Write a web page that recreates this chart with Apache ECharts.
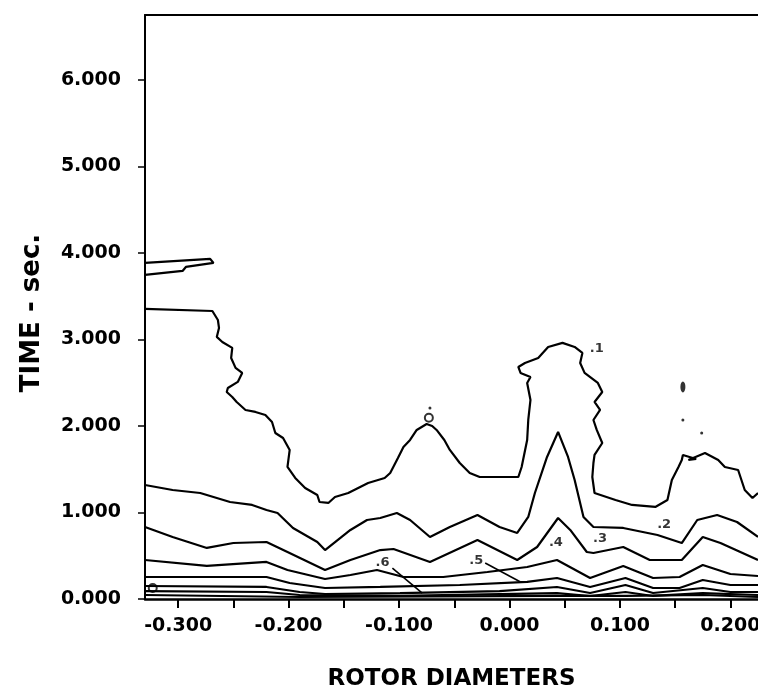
<!DOCTYPE html>
<html>
<head>
<meta charset="utf-8">
<script src="https://cdn.jsdelivr.net/npm/echarts@6/dist/echarts.min.js"></script>
<style>html,body{margin:0;padding:0;background:#fff;overflow:hidden}#c{position:absolute;left:0;top:0;width:758px;height:695px}</style>
</head>
<body>
<div id="c"></div>
<script>
// ---- data (x: rotor diameters, y: time in sec) ----
const xTickValues = [-0.30, -0.25, -0.20, -0.15, -0.10, -0.05, 0.00, 0.05, 0.10, 0.15, 0.20];
const xLabelValues = [-0.30, -0.20, -0.10, 0.00, 0.10, 0.20];
const yLabelValues = [0, 1, 2, 3, 4, 5, 6];

const contour1 = [[-0.330,3.353],[-0.269,3.329],[-0.264,3.225],[-0.263,3.133],[-0.265,3.029],[-0.260,2.971],[-0.251,2.902],[-0.252,2.786],[-0.248,2.671],[-0.242,2.613],[-0.246,2.509],[-0.255,2.439],[-0.256,2.393],[-0.251,2.335],[-0.247,2.277],[-0.239,2.185],[-0.230,2.162],[-0.221,2.127],[-0.215,2.046],[-0.212,1.919],[-0.205,1.861],[-0.199,1.723],[-0.201,1.526],[-0.194,1.399],[-0.185,1.283],[-0.174,1.202],[-0.172,1.121],[-0.164,1.110],[-0.158,1.179],[-0.146,1.225],[-0.128,1.341],[-0.113,1.399],[-0.108,1.457],[-0.101,1.630],[-0.096,1.757],[-0.090,1.838],[-0.084,1.954],[-0.078,2.000],[-0.075,2.023],[-0.070,2.000],[-0.066,1.954],[-0.059,1.838],[-0.054,1.723],[-0.045,1.572],[-0.036,1.457],[-0.027,1.410],[0.008,1.410],[0.011,1.526],[0.016,1.838],[0.017,2.069],[0.019,2.301],[0.016,2.497],[0.019,2.566],[0.010,2.613],[0.008,2.682],[0.014,2.728],[0.026,2.786],[0.035,2.913],[0.048,2.960],[0.059,2.913],[0.066,2.844],[0.064,2.728],[0.068,2.613],[0.080,2.497],[0.084,2.393],[0.077,2.277],[0.082,2.185],[0.076,2.069],[0.079,1.954],[0.084,1.803],[0.077,1.665],[0.076,1.572],[0.075,1.410],[0.077,1.225],[0.096,1.145],[0.111,1.087],[0.132,1.064],[0.143,1.145],[0.147,1.376],[0.153,1.526],[0.156,1.607],[0.157,1.665],[0.169,1.618],[0.162,1.607],[0.177,1.688],[0.189,1.607],[0.195,1.526],[0.207,1.491],[0.213,1.260],[0.220,1.168],[0.225,1.225]];
const contour1b = [[-0.330,3.884],[-0.271,3.931],[-0.268,3.884],[-0.293,3.838],[-0.296,3.792],[-0.330,3.746]];
const contour2 = [[-0.330,1.318],[-0.305,1.260],[-0.280,1.225],[-0.253,1.121],[-0.233,1.087],[-0.220,1.029],[-0.210,0.994],[-0.196,0.821],[-0.174,0.659],[-0.167,0.566],[-0.144,0.798],[-0.129,0.913],[-0.117,0.936],[-0.102,0.994],[-0.090,0.913],[-0.072,0.717],[-0.054,0.832],[-0.029,0.971],[-0.009,0.832],[0.007,0.763],[0.017,0.948],[0.023,1.225],[0.034,1.642],[0.044,1.931],[0.053,1.642],[0.059,1.376],[0.067,0.948],[0.076,0.832],[0.103,0.821],[0.134,0.740],[0.156,0.647],[0.170,0.913],[0.188,0.971],[0.206,0.890],[0.225,0.717]];
const contour3 = [[-0.330,0.832],[-0.305,0.717],[-0.274,0.590],[-0.250,0.647],[-0.220,0.659],[-0.201,0.543],[-0.167,0.335],[-0.144,0.451],[-0.117,0.566],[-0.105,0.578],[-0.072,0.428],[-0.029,0.682],[0.007,0.451],[0.025,0.601],[0.044,0.936],[0.055,0.798],[0.070,0.543],[0.076,0.532],[0.103,0.601],[0.127,0.451],[0.156,0.451],[0.175,0.717],[0.191,0.647],[0.225,0.451]];
const contour4 = [[-0.330,0.451],[-0.274,0.382],[-0.220,0.428],[-0.201,0.335],[-0.167,0.231],[-0.144,0.277],[-0.120,0.335],[-0.096,0.254],[-0.060,0.254],[-0.020,0.312],[0.016,0.370],[0.043,0.451],[0.073,0.243],[0.103,0.382],[0.130,0.243],[0.154,0.254],[0.175,0.393],[0.200,0.289],[0.225,0.266]];
const contour5 = [[-0.330,0.254],[-0.220,0.254],[-0.199,0.185],[-0.167,0.127],[-0.117,0.139],[-0.045,0.162],[0.016,0.197],[0.043,0.243],[0.073,0.139],[0.105,0.243],[0.130,0.127],[0.154,0.127],[0.175,0.220],[0.200,0.162],[0.225,0.162]];
const contour6 = [[-0.330,0.150],[-0.220,0.139],[-0.190,0.081],[-0.167,0.058],[-0.099,0.069],[-0.009,0.092],[0.043,0.139],[0.073,0.069],[0.105,0.162],[0.130,0.069],[0.175,0.127],[0.200,0.081],[0.225,0.081]];
const contour7 = [[-0.330,0.092],[-0.220,0.081],[-0.190,0.046],[-0.099,0.035],[0.043,0.069],[0.073,0.035],[0.105,0.081],[0.130,0.035],[0.175,0.069],[0.225,0.046]];
const contour8 = [[-0.330,0.046],[-0.190,0.023],[0.043,0.035],[0.105,0.035],[0.175,0.046],[0.225,0.023]];
const leader6 = [[-0.106,0.358],[-0.079,0.069]];
const leader5 = [[-0.022,0.416],[0.010,0.197]];
const rings = [[-0.073,2.095],[-0.323,0.127]];
const spots = [[0.157,2.069],[-0.072,2.208],[0.174,1.919]];
const blob = [[0.157,2.451]];
const levelLabels = ['.1','.2','.3','.4','.5','.6'];
const levelLabelPos = [[0.079,2.890],[0.140,0.855],[0.082,0.694],[0.042,0.647],[-0.030,0.439],[-0.115,0.416]];

// ---- chart ----
const FONT = 'DejaVu Sans';
const lineS = (d, w) => ({type:'line', data:d, showSymbol:false, symbol:'none', silent:true,
  lineStyle:{color:'#000', width:w||2.2}, z:3});
const chart = echarts.init(document.getElementById('c'), null, {renderer:'canvas', width:758, height:695});
chart.setOption({
  animation:false,
  backgroundColor:'#fff',
  grid:{left:145, right:0, top:15, bottom:96, containLabel:false, outerBoundsMode:'none'},
  xAxis:[{
    type:'value', min:-0.33, max:0.225, position:'bottom',
    name:'ROTOR DIAMETERS', nameLocation:'middle', nameGap:69,
    nameTextStyle:{fontFamily:FONT, fontWeight:'bold', fontSize:23, color:'#000'},
    axisLine:{show:true, onZero:false, lineStyle:{color:'#000', width:2.5}},
    axisTick:{show:true, length:9, customValues:xTickValues, lineStyle:{color:'#000', width:2}},
    axisLabel:{show:true, customValues:xLabelValues, margin:18, fontFamily:FONT, fontWeight:'bold', fontSize:19, color:'#000',
      formatter:v=>v.toFixed(3)},
    splitLine:{show:false}
  },{
    type:'value', min:-0.33, max:0.225, position:'top',
    axisLine:{show:true, onZero:false, lineStyle:{color:'#000', width:2}},
    axisTick:{show:false}, axisLabel:{show:false}, splitLine:{show:false}
  }],
  yAxis:{
    type:'value', min:0, max:6.75,
    name:'TIME - sec.', nameLocation:'middle', nameGap:100, nameRotate:90,
    nameTextStyle:{fontFamily:FONT, fontWeight:'bold', fontSize:26, color:'#000', padding:[0,12,0,0]},
    axisLine:{show:true, onZero:false, lineStyle:{color:'#000', width:2}},
    axisTick:{show:true, length:7, customValues:yLabelValues, lineStyle:{color:'#000', width:1.5}},
    axisLabel:{show:true, customValues:yLabelValues, margin:24, fontFamily:FONT, fontWeight:'bold', fontSize:19, color:'#000',
      formatter:v=>v.toFixed(3)},
    splitLine:{show:false}
  },
  series:[
    lineS(contour1), lineS(contour1b), lineS(contour2), lineS(contour3), lineS(contour4),
    lineS(contour5), lineS(contour6), lineS(contour7), lineS(contour8),
    lineS(leader6, 1.6), lineS(leader5, 1.6),
    {type:'scatter', data:rings, symbol:'circle', symbolSize:8, silent:true,
      itemStyle:{color:'rgba(0,0,0,0)', borderColor:'#000', borderWidth:2}, z:4},
    {type:'scatter', data:spots, symbol:'circle', symbolSize:3, silent:true, itemStyle:{color:'#000'}, z:4},
    {type:'scatter', data:blob, symbol:'circle', symbolSize:[5,11], silent:true, itemStyle:{color:'#000'}, z:4},
    {type:'scatter', data:levelLabelPos.map((p,i)=>({value:p, name:levelLabels[i]})), symbolSize:0, silent:true, z:5,
      label:{show:true, position:'inside', formatter:p=>p.name, fontFamily:FONT, fontWeight:'bold', fontSize:13, color:'#000'}}
  ]
});
</script>
</body>
</html>
